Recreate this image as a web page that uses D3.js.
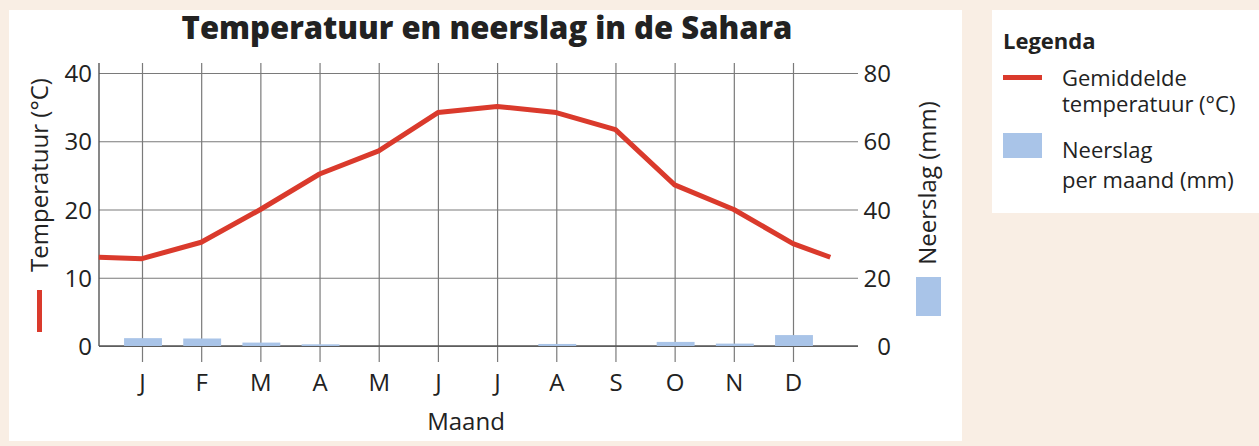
<!DOCTYPE html>
<html>
<head>
<meta charset="utf-8">
<script src="https://cdn.jsdelivr.net/npm/d3@7"></script>
<style>
html,body{margin:0;padding:0;background:#f9eee4;}
svg{display:block;}
text{font-family:"Open Sans","Noto Sans",sans-serif;fill:#222;}
</style>
</head>
<body>
<svg id="chart" width="1259" height="446"></svg>
<script>
// ---- data ----
const months = ["J","F","M","A","M","J","J","A","S","O","N","D"];
const temperature = [12.8, 15.2, 20.0, 25.2, 28.6, 34.2, 35.1, 34.2, 31.7, 23.6, 20.0, 15.0];
const tempStart = {m: -0.73, t: 13.0};   // line runs in from the left edge
const tempEnd = {m: 11.63, t: 13.0};     // and stops past December
const precipitation = [2.3, 2.2, 1.0, 0.5, 0, 0, 0, 0.6, 0, 1.2, 0.7, 3.2];
const tempTicks = [0, 10, 20, 30, 40];
const precTicks = [0, 20, 40, 60, 80];

const title = "Temperatuur en neerslag in de Sahara";
const red = "#da3a2c", blue = "#a9c4e8", grid = "#7a7a7a";

const svg = d3.select("#chart");

// panels
svg.append("rect").attr("x", 9).attr("y", 10).attr("width", 953).attr("height", 431).attr("fill", "#fff");
svg.append("rect").attr("x", 992).attr("y", 10).attr("width", 267).attr("height", 203).attr("fill", "#fff");

// scales
const x = d3.scaleLinear().domain([0, 11]).range([142, 793]);
const yT = d3.scaleLinear().domain([0, 40]).range([346, 73]);
const yP = d3.scaleLinear().domain([0, 80]).range([346, 73]);
const plotLeft = 99, gridRight = 858, gridTop = 63, tickBottom = 362;
const fs = "24px";

// horizontal grid + left labels
const gL = svg.append("g").attr("transform", `translate(${plotLeft},0)`)
  .call(d3.axisLeft(yT).tickValues(tempTicks).tickSize(-(gridRight - plotLeft)).tickPadding(7).tickFormat(d3.format("d")));
gL.select(".domain").remove();
gL.selectAll("line").attr("stroke", grid).attr("stroke-width", 1.2);
gL.selectAll("text").style("font-size", fs).attr("fill", "#222").attr("dy", "0.36em");

// right labels
const gR = svg.append("g").attr("transform", `translate(${gridRight},0)`)
  .call(d3.axisRight(yP).tickValues(precTicks).tickSize(0).tickFormat(d3.format("d")));
gR.select(".domain").remove();
gR.selectAll("text").attr("text-anchor", "end").attr("x", 33).style("font-size", fs).attr("fill", "#222").attr("dy", "0.36em");

// vertical grid + month labels
const gB = svg.append("g").attr("transform", `translate(0,${tickBottom})`)
  .call(d3.axisBottom(x).tickValues(d3.range(months.length)).tickSize(-(tickBottom - gridTop)).tickPadding(12).tickFormat(i => months[i]));
gB.select(".domain").remove();
gB.selectAll("line").attr("stroke", grid).attr("stroke-width", 1.2);
gB.selectAll("text").style("font-size", fs).attr("fill", "#222");

// left axis line and baseline
svg.append("line").attr("x1", plotLeft).attr("x2", plotLeft).attr("y1", gridTop).attr("y2", yT(0)).attr("stroke", "#555").attr("stroke-width", 1.4);
svg.append("line").attr("x1", plotLeft).attr("x2", gridRight).attr("y1", yT(0)).attr("y2", yT(0)).attr("stroke", "#555").attr("stroke-width", 1.4);

// bars
const bw = (x(1) - x(0)) * 0.64;
svg.append("g").selectAll("rect").data(precipitation).join("rect")
  .attr("x", (d, i) => x(i) - bw / 2 + 1)
  .attr("y", d => yP(d))
  .attr("width", bw)
  .attr("height", d => yP(0) - yP(d))
  .attr("fill", blue);

// temperature line
const linePts = [tempStart].concat(temperature.map((t, i) => ({m: i, t})), [tempEnd]);
svg.append("path").datum(linePts)
  .attr("fill", "none").attr("stroke", red).attr("stroke-width", 5).attr("stroke-linejoin", "round")
  .attr("d", d3.line().x(d => x(d.m)).y(d => yT(d.t)));

// title
svg.append("text").attr("x", 487).attr("y", 39).attr("text-anchor", "middle")
  .style("font-size", "31px").style("font-weight", "800").attr("fill", "#1a1a1a").text(title);

// axis titles
svg.append("text").attr("transform", "translate(48,175) rotate(-90)").attr("text-anchor", "middle")
  .style("font-size", fs).text("Temperatuur (°C)");
svg.append("rect").attr("x", 37).attr("y", 290).attr("width", 5).attr("height", 42).attr("fill", red);

svg.append("text").attr("transform", "translate(936,183) rotate(-90)").attr("text-anchor", "middle")
  .style("font-size", fs).text("Neerslag (mm)");
svg.append("rect").attr("x", 916).attr("y", 277).attr("width", 25).attr("height", 39).attr("fill", blue);

svg.append("text").attr("x", 466).attr("y", 430).attr("text-anchor", "middle")
  .style("font-size", fs).text("Maand");

// legend
const lg = svg.append("g");
const lfs = "22px";
lg.append("text").attr("x", 1003).attr("y", 49).style("font-size", lfs).style("font-weight", "700").text("Legenda");
lg.append("rect").attr("x", 1003).attr("y", 75).attr("width", 39).attr("height", 5).attr("fill", red);
lg.append("text").attr("x", 1062).attr("y", 86).style("font-size", lfs).text("Gemiddelde");
lg.append("text").attr("x", 1062).attr("y", 112).style("font-size", lfs).text("temperatuur (°C)");
lg.append("rect").attr("x", 1003).attr("y", 133).attr("width", 39).attr("height", 25).attr("fill", blue);
lg.append("text").attr("x", 1062).attr("y", 158).style("font-size", lfs).text("Neerslag");
lg.append("text").attr("x", 1062).attr("y", 188).style("font-size", lfs).text("per maand (mm)");
</script>
</body>
</html>
